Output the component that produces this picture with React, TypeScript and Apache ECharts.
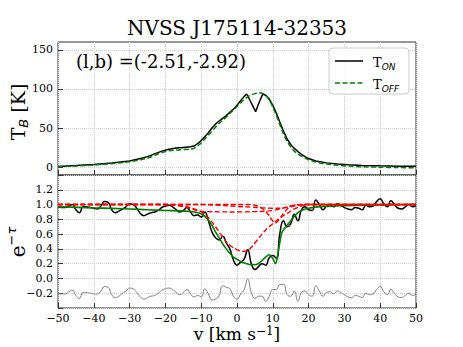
import React, { useEffect, useRef } from 'react';
import * as echarts from 'echarts';

const chartTitle = 'NVSS J175114-32353';
const coordText = '(l,b) =(-2.51,-2.92)';
const topYTicks = [0, 50, 100, 150];

// Top panel: brightness temperature on / off source
const tOnVel = [-50,-45,-40,-35,-30,-27,-25,-23,-21,-19,-17,-15,-13,-12,-11,-10,-9,-8,-7,-6,-5,-4,-3,-2,-1,0,1,2,2.7,4,5.2,6.2,7.2,8,9,10,11,12,13,14,15,16,17,18,19,20,22,25,28,31,35,40,45,50];
const tOnK = [1,2,3.3,5.2,8,11,13.5,17,20.5,23,24.5,25.3,26,27,30,34,39,44,50,55,59,62.5,66,70,74,79,85,90.5,93.5,82,71,83,93.5,92,87,79,69,57,46,36,29,24,20,16.5,13.5,11,8,5.5,4,3,2.2,1.7,1.3,1.1];
const tOffVel = [-50,-45,-40,-35,-30,-27,-25,-23,-21,-19,-17,-15,-13,-12,-11,-10,-9,-8,-7,-6,-5,-4,-3,-2,-1,0,1,2,3,4,5,6,7,8,9,10,11,12,13,14,15,16,17,18,19,20,22,25,28,31,35,40,45,50];
const tOffK = [0.5,1.5,2.8,4.5,7,9.5,11.5,15,18.5,21,22,22.5,23,24,27,31,36,41,46,51,56,60,64,68.5,73,77.5,82,86.5,90,92.5,94,95,94.5,92,86,77,66,54,42,33,26,20.5,17,14,11.5,9.5,6.5,4,2.5,1.5,0.5,0,-0.5,-0.8];

// Bottom panel: absorption spectrum
const specVel = [-50,-49,-48,-47,-46,-45,-44,-43,-42,-41,-40,-39,-38,-37,-36,-35,-34,-33,-32,-31,-30,-29,-28,-27,-26,-25,-24,-23,-22,-21,-20,-19,-18,-17,-16,-15,-14,-13,-12,-11,-10,-9,-8,-7,-6,-5,-4,-3,-2,-1,0,1,2,3,4,5,6,7,8,9,10,11,12,13,14,15,16,17,18,19,20,21,22,23,24,25,26,27,28,29,30,31,32,33,34,35,36,37,38,39,40,41,42,43,44,45,46,47,48,49,50];
const eTauObs = [0.97,0.96,0.96,0.98,1.00,0.93,0.89,0.97,0.97,0.96,
  0.95,0.94,0.98,1.04,1.03,0.93,0.89,0.91,0.94,0.97,
  1.01,1.00,0.95,0.88,0.85,0.87,0.89,0.90,0.92,0.96,
  0.98,0.99,0.97,0.93,0.90,0.92,0.96,0.90,0.85,0.86,
  0.83,0.90,0.78,0.63,0.55,0.52,0.57,0.48,0.40,0.25,
  0.18,0.22,0.26,0.39,0.20,0.12,0.16,0.20,0.18,0.28,
  0.31,0.27,0.62,0.78,0.70,0.74,0.87,0.78,0.93,0.97,
  0.93,0.92,1.06,1.00,0.93,0.98,1.00,0.97,1.01,0.99,
  0.96,0.94,0.93,0.96,0.95,0.93,0.99,0.97,0.98,1.04,
  1.08,1.01,0.97,1.05,1.00,0.95,0.94,0.97,1.00,0.97,
  0.99];
const residualShifted = [-0.20,-0.21,-0.21,-0.18,-0.16,-0.23,-0.27,-0.19,-0.19,-0.20,
  -0.21,-0.21,-0.17,-0.11,-0.12,-0.22,-0.26,-0.24,-0.20,-0.17,
  -0.13,-0.14,-0.19,-0.25,-0.28,-0.26,-0.24,-0.23,-0.20,-0.16,
  -0.14,-0.13,-0.15,-0.19,-0.22,-0.19,-0.15,-0.21,-0.25,-0.23,
  -0.25,-0.14,-0.21,-0.29,-0.28,-0.23,-0.10,-0.12,-0.14,-0.24,
  -0.28,-0.21,-0.15,-0.01,-0.19,-0.27,-0.24,-0.24,-0.31,-0.24,
  -0.15,-0.15,-0.08,-0.08,-0.22,-0.24,-0.17,-0.31,-0.19,-0.17,
  -0.22,-0.24,-0.10,-0.17,-0.24,-0.19,-0.18,-0.21,-0.17,-0.19,
  -0.22,-0.25,-0.26,-0.23,-0.24,-0.26,-0.20,-0.22,-0.21,-0.15,
  -0.11,-0.18,-0.22,-0.15,-0.20,-0.25,-0.26,-0.23,-0.20,-0.23,
  -0.21];
const fitVel = [-50,-40,-30,-25,-20,-16,-13,-11,-10,-9,-8,-7,-6,-5,-4,-3,-2,-1,0,1,2,3,4,5,6,7,8,9,10,10.8,11.5,12,12.5,13,14,15,16,17,18,20,22,25,30,40,50];
const fitVal = [0.97,0.955,0.94,0.93,0.92,0.915,0.905,0.89,0.875,0.84,0.79,0.72,0.63,0.55,0.47,0.40,0.34,0.29,0.26,0.23,0.21,0.195,0.185,0.185,0.2,0.24,0.29,0.32,0.27,0.2,0.36,0.5,0.62,0.66,0.72,0.78,0.84,0.89,0.92,0.95,0.965,0.975,0.985,0.995,1.0];

// Gaussian components (e^-tau of each)
const comp1Vel = [-50,-20,-16,-14,-12,-10,-8,-6,-4,-2,0,1.5,3,4,5.5,7,8.5,10,11,12,14,16,18,20,50];
const comp1Val = [1,1,0.99,0.97,0.94,0.9,0.82,0.7,0.56,0.45,0.39,0.365,0.38,0.42,0.51,0.6,0.68,0.74,0.78,0.82,0.88,0.94,0.98,1,1];
const comp2Vel = [-50,-20,-16,-13,-11,-8,0,5,8,10,12,14,16,18,50];
const comp2Val = [1,1,0.98,0.945,0.915,0.905,0.9,0.905,0.91,0.92,0.94,0.97,0.99,1,1];
const comp3Vel = [-50,3,5,7,8.5,9.5,10.7,11.8,13,14.5,16,18,50];
const comp3Val = [1,1,0.99,0.95,0.88,0.81,0.75,0.8,0.88,0.96,0.99,1,1];
const comp4Vel = [-50,-10,-5,0,4,7,10,12,14,16,19,50];
const comp4Val = [1,1,0.99,0.975,0.965,0.955,0.95,0.95,0.96,0.98,1,1];

const zip = (a: number[], b: number[]) => a.map((v, i) => [v, b[i]]);
const SERIF = 'DejaVu Serif';
const SANS = 'DejaVu Sans';
const minus = (s: string) => s.replace('-', '\u2212');

const gridLine = { show: true, lineStyle: { color: '#d0d0d0', type: 'dotted' as const, width: 1 } };
const tickStyle = { inside: true, length: 5, lineStyle: { color: '#333', width: 1 } };
const labelStyle = { fontFamily: SERIF, fontSize: 11, color: '#000' };
const noLine = { show: false, onZero: false };

export default function App() {
  const ref = useRef<HTMLDivElement>(null);
  useEffect(() => {
    const chart = echarts.init(ref.current!, null, { renderer: 'svg' });
    const red = (vel: number[], val: number[]) => ({
      type: 'line', xAxisIndex: 1, yAxisIndex: 1, data: zip(vel, val), symbol: 'none', smooth: 0.4,
      lineStyle: { color: '#ff0000', width: 1.4, type: [5, 2.5] }, silent: true, z: 4,
    });
    const option: any = {
      animation: false,
      backgroundColor: '#ffffff',
      grid: [
        { left: 58, right: 47, top: 42, height: 133, show: true, borderColor: '#333', borderWidth: 1, backgroundColor: 'transparent' },
        { left: 58, right: 47, top: 175, height: 133, show: true, borderColor: '#333', borderWidth: 1, backgroundColor: 'transparent' },
      ],
      xAxis: [
        { gridIndex: 0, type: 'value', min: -50, max: 50, interval: 10, axisLine: noLine,
          axisTick: tickStyle, axisLabel: { show: false }, splitLine: gridLine },
        { gridIndex: 1, type: 'value', min: -50, max: 50, interval: 10, axisLine: noLine,
          axisTick: tickStyle, splitLine: gridLine,
          axisLabel: { ...labelStyle, margin: 5, formatter: (v: number) => minus(String(v)) } },
      ],
      yAxis: [
        { gridIndex: 0, type: 'value', min: -10, max: 160, axisLine: noLine,
          axisTick: { ...tickStyle, customValues: topYTicks },
          axisLabel: { ...labelStyle, margin: 5, customValues: topYTicks },
          splitLine: gridLine },
        { gridIndex: 1, type: 'value', min: -0.4, max: 1.4, interval: 0.2, axisLine: noLine,
          axisTick: tickStyle, splitLine: gridLine,
          axisLabel: { ...labelStyle, margin: 5, formatter: (v: number) => {
            const r = Math.round(v * 10) / 10;
            if (r <= -0.4 || r >= 1.4) return '';
            return minus(r.toFixed(1));
          } } },
      ],
      series: [
        { type: 'line', xAxisIndex: 0, yAxisIndex: 0, data: zip(tOffVel, tOffK), symbol: 'none', smooth: 0.3,
          lineStyle: { color: '#008000', width: 1.5, type: [5, 2.5] }, silent: true, z: 3 },
        { type: 'line', xAxisIndex: 0, yAxisIndex: 0, data: zip(tOnVel, tOnK), symbol: 'none',
          lineStyle: { color: '#000', width: 1.5 }, silent: true, z: 2 },
        { type: 'line', xAxisIndex: 1, yAxisIndex: 1, data: zip(specVel, eTauObs), symbol: 'none', smooth: 0.5,
          lineStyle: { color: '#000', width: 1.5 }, silent: true, z: 2 },
        { type: 'line', xAxisIndex: 1, yAxisIndex: 1, data: zip(fitVel, fitVal), symbol: 'none', smooth: 0.3,
          lineStyle: { color: '#008000', width: 1.6 }, silent: true, z: 3 },
        red(comp1Vel, comp1Val),
        red(comp2Vel, comp2Val),
        red(comp3Vel, comp3Val),
        red(comp4Vel, comp4Val),
        { type: 'line', xAxisIndex: 1, yAxisIndex: 1, data: zip(specVel, residualShifted), symbol: 'none', smooth: 0.5,
          lineStyle: { color: '#808080', width: 1 }, silent: true, z: 2 },
      ],
      graphic: [
        { type: 'text', x: 237, y: 28, style: { text: chartTitle, font: `20px "${SERIF}"`, fill: '#000', align: 'center', verticalAlign: 'middle' } },
        { type: 'text', x: 76, y: 61, style: { text: coordText, font: `18px "${SERIF}"`, fill: '#000', align: 'left', verticalAlign: 'middle' } },
        { type: 'text', x: 18, y: 112, rotation: Math.PI / 2,
          style: { text: '{m|T}{s|B}{m| [K]}', align: 'center', verticalAlign: 'middle',
            rich: { m: { fontFamily: SERIF, fontSize: 19, lineHeight: 24, fill: '#000' },
                    s: { fontFamily: SANS, fontStyle: 'italic', fontSize: 13, lineHeight: 14, verticalAlign: 'bottom', fill: '#000' } } } },
        { type: 'text', x: 18, y: 242, rotation: Math.PI / 2,
          style: { text: '{m|e}{s|\u2212\u03c4}', align: 'center', verticalAlign: 'middle',
            rich: { m: { fontFamily: SERIF, fontSize: 20, lineHeight: 26, fill: '#000' },
                    s: { fontFamily: SANS, fontStyle: 'italic', fontSize: 13, lineHeight: 14, verticalAlign: 'top', fill: '#000' } } } },
        { type: 'text', x: 237, y: 334,
          style: { text: '{m|v [km s}{s|\u22121}{m|]}', align: 'center', verticalAlign: 'middle',
            rich: { m: { fontFamily: SERIF, fontSize: 17, lineHeight: 18, fill: '#000' },
                    s: { fontFamily: SERIF, fontSize: 12, lineHeight: 12, verticalAlign: 'top', fill: '#000' } } } },
        { type: 'rect', shape: { x: 329, y: 48, width: 80, height: 46, r: 4 },
          style: { fill: 'rgba(255,255,255,0.85)', stroke: '#cccccc', lineWidth: 1 }, z: 10 },
        { type: 'line', shape: { x1: 335, y1: 61, x2: 363, y2: 61 }, style: { stroke: '#000', lineWidth: 1.5 }, z: 11 },
        { type: 'line', shape: { x1: 335, y1: 83, x2: 363, y2: 83 }, style: { stroke: '#008000', lineWidth: 1.5, lineDash: [5, 2.5] }, z: 11 },
        { type: 'text', x: 373, y: 62, z: 11,
          style: { text: '{m|T}{s|ON}', align: 'left', verticalAlign: 'middle',
            rich: { m: { fontFamily: SERIF, fontSize: 13, lineHeight: 18, fill: '#000' },
                    s: { fontFamily: SANS, fontStyle: 'italic', fontSize: 9, lineHeight: 10, verticalAlign: 'bottom', fill: '#000' } } } },
        { type: 'text', x: 373, y: 84, z: 11,
          style: { text: '{m|T}{s|OFF}', align: 'left', verticalAlign: 'middle',
            rich: { m: { fontFamily: SERIF, fontSize: 13, lineHeight: 18, fill: '#000' },
                    s: { fontFamily: SANS, fontStyle: 'italic', fontSize: 9, lineHeight: 10, verticalAlign: 'bottom', fill: '#000' } } } },
      ],
    };
    chart.setOption(option);
    return () => chart.dispose();
  }, []);
  return <div ref={ref} style={{ position: 'fixed', left: 0, top: 0, width: 463, height: 347, background: '#fff' }} />;
}
